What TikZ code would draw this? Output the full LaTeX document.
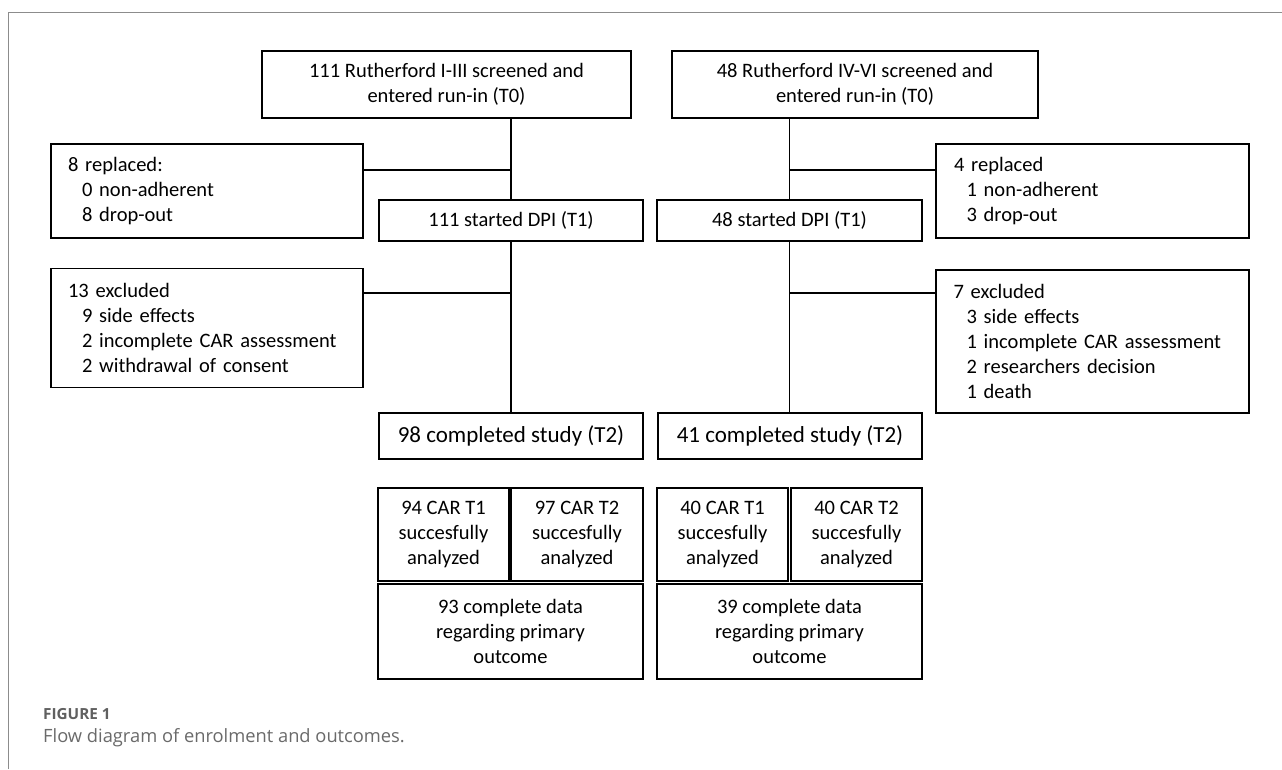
\documentclass[tikz,border=0pt]{standalone}
\usepackage{fontspec}
\setmainfont{Carlito}
\newfontfamily\capfont{Open Sans}
\definecolor{framegray}{HTML}{8C8C8C}
\definecolor{capgray}{HTML}{606060}
\definecolor{captext}{HTML}{6A6A6A}
\begin{document}
\begin{tikzpicture}[x=1pt,y=-1pt,
  box/.style={draw=black, line width=1.5pt, inner sep=0pt, align=center,
    font=\fontsize{20.5}{25}\selectfont},
  lbox/.style={box, align=left, inner xsep=17pt, text width=278pt},
  rbox/.style={box, align=left, inner xsep=6.5pt, text width=300pt},
  link/.style={draw=black, line width=1.5pt}
]
\useasboundingbox (0,0) rectangle (1282,769);
\fill[white] (0,0) rectangle (1282,769);
% frame
\draw[framegray, line width=1pt] (8.5,769) -- (8.5,12) -- (1282,12);

% top boxes
\node[box, minimum width=369pt, minimum height=67pt] (t0l) at (446.5,84.5)
  {111 Rutherford I-III screened and\\entered run-in (T0)};
\node[box, minimum width=366pt, minimum height=67pt] (t0r) at (855,84.5)
  {48 Rutherford IV-VI screened and\\entered run-in (T0)};

% replaced boxes
\node[lbox, minimum height=94pt] (repl) at (207,191)
  {8 replaced:\\\hspace*{14pt}0 non-adherent\\\hspace*{14pt}8 drop-out};
\node[rbox, minimum height=94pt] (repr) at (1092.5,191)
  {\hspace*{11.5pt}4 replaced\\\hspace*{24pt}1 non-adherent\\\hspace*{24pt}3 drop-out};

% started DPI
\node[box, minimum width=264pt, minimum height=41pt] (dpil) at (511,220.5)
  {111 started DPI (T1)};
\node[box, minimum width=265pt, minimum height=41pt] (dpir) at (789.5,220.5)
  {48 started DPI (T1)};

% excluded
\node[lbox, minimum height=119pt] (excl) at (207,328)
  {13 excluded\\\hspace*{14pt}9 side effects\\\hspace*{14pt}2 incomplete CAR assessment\\\hspace*{14pt}2 withdrawal of consent};
\node[rbox, minimum height=143pt] (excr) at (1092.5,341.5)
  {\hspace*{11pt}7 excluded\\\hspace*{24pt}3 side effects\\\hspace*{24pt}1 incomplete CAR assessment\\\hspace*{24pt}2 researchers decision\\\hspace*{24pt}1 death};

% completed
\node[box, minimum width=264pt, minimum height=46pt, font=\fontsize{23}{27}\selectfont] (compl) at (511,436)
  {98 completed study (T2)};
\node[box, minimum width=264pt, minimum height=46pt, font=\fontsize{23}{27}\selectfont] (compr) at (790,436)
  {41 completed study (T2)};

% CAR boxes
\node[box, minimum width=131pt, minimum height=93pt] (carl1) at (443.5,534.5)
  {94 CAR T1\\succesfully\\analyzed};
\node[box, minimum width=132pt, minimum height=93pt] (carl2) at (577,534.5)
  {97 CAR T2\\succesfully\\analyzed};
\node[box, minimum width=131pt, minimum height=93pt] (carr1) at (722.5,534.5)
  {40 CAR T1\\succesfully\\analyzed};
\node[box, minimum width=131pt, minimum height=93pt] (carr2) at (856.5,534.5)
  {40 CAR T2\\succesfully\\analyzed};

% data boxes
\node[box, minimum width=265pt, minimum height=95pt] (datl) at (510.5,631.5)
  {93 complete data\\regarding primary\\outcome};
\node[box, minimum width=265pt, minimum height=95pt] (datr) at (789.5,631.5)
  {39 complete data\\regarding primary\\outcome};

% junctions
\coordinate (jl1) at (511,170);
\coordinate (jl2) at (511,293);
\coordinate (jr1) at (789.5,170);
\coordinate (jr2) at (789.5,293);

% connectors
\draw[link] (t0l.south -| dpil.north) -- (dpil.north);
\draw[link] (dpil.south) -- (compl.north);
\draw[link] (repl.east |- jl1) -- (jl1);
\draw[link] (excl.east |- jl2) -- (jl2);
\draw[link] (t0r.south -| dpir.north) -- (dpir.north);
\draw[link] (dpir.south) -- (dpir.south |- compr.north);
\draw[link] (jr1) -- (repr.west |- jr1);
\draw[link] (jr2) -- (excr.west |- jr2);

% caption
\node[anchor=west, inner sep=0pt, text=capgray, font=\capfont\bfseries\fontsize{15.3}{17}\selectfont] (figlab) at (43,714) {FIGURE 1};
\node[anchor=west, inner sep=0pt, text=captext, font=\capfont\fontsize{18.3}{22}\selectfont] (figcap) at (43,738) {Flow diagram of enrolment and outcomes.};
\end{tikzpicture}
\end{document}
